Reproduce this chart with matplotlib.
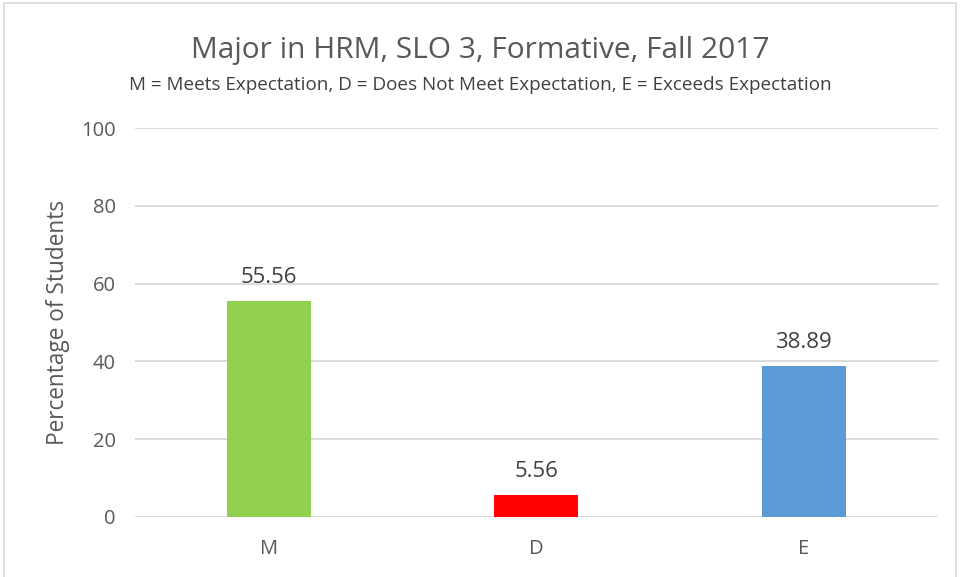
import matplotlib.pyplot as plt
from matplotlib.patches import Rectangle

plt.rcParams['font.family'] = ['Open Sans', 'DejaVu Sans']

categories = ["M", "D", "E"]
percentages = [55.56, 5.56, 38.89]
bar_colors = ["#92D050", "#FF0000", "#5B9BD5"]
y_ticks = [0, 20, 40, 60, 80, 100]

text_gray = "#595959"
grid_gray = "#D9D9D9"

fig = plt.figure(figsize=(9.6, 5.77), dpi=100)
ax = fig.add_axes([0.1406, 0.104, 0.836, 0.674])

x = range(len(categories))
bars = ax.bar(x, percentages, width=0.315, color=bar_colors, zorder=3)

for b, v in zip(bars, percentages):
    ax.annotate(f"{v:.2f}", (b.get_x() + b.get_width() / 2, v),
                xytext=(0, 9.5), textcoords="offset points",
                ha="center", va="bottom", fontsize=16, color="#404040")

ax.set_xlim(-0.5, len(categories) - 0.5)
ax.set_ylim(0, 100)
ax.set_yticks(y_ticks)
ax.set_xticks(list(x))
ax.set_xticklabels(categories)
ax.tick_params(axis="both", length=0, labelsize=14.5, colors=text_gray)
ax.tick_params(axis="x", pad=16)
ax.tick_params(axis="y", pad=14)
ax.grid(axis="y", color=grid_gray, linewidth=1.3, zorder=0)
for s in ax.spines.values():
    s.set_visible(False)

ax.set_ylabel("Percentage of Students", fontsize=16.3, color=text_gray, labelpad=8)

fig.text(0.5, 0.913, "Major in HRM, SLO 3, Formative, Fall 2017",
         ha="center", va="center", fontsize=21.5, color=text_gray)
fig.text(0.5, 0.852, "M = Meets Expectation, D = Does Not Meet Expectation, E = Exceeds Expectation",
         ha="center", va="center", fontsize=13.6, color="#404040")

# thin chart-area border
fig.patches.append(Rectangle((4 / 960, -0.01), 952 / 960, 1 - 3 / 577 + 0.01,
                             transform=fig.transFigure, fill=False,
                             edgecolor=grid_gray, linewidth=1.2))

fig.savefig("out.png", dpi=100)
